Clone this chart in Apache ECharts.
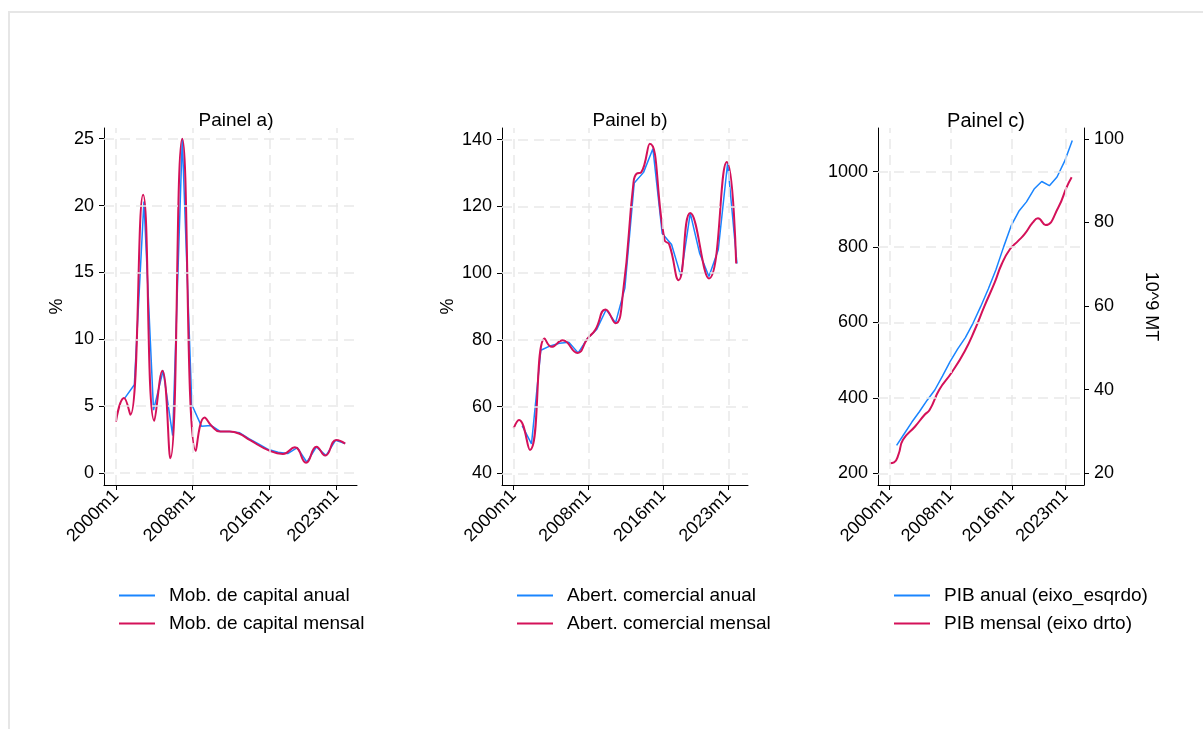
<!DOCTYPE html>
<html>
<head>
<meta charset="utf-8">
<script src="https://cdn.jsdelivr.net/npm/echarts@6/dist/echarts.min.js"></script>
<style>
  html, body { margin: 0; padding: 0; background: #fff; }
  .moldura {
    position: absolute; left: 8px; top: 11px; width: 1300px; height: 800px;
    border-left: 2px solid #e6e6e6; border-top: 2px solid #e6e6e6;
  }
  #chart { position: absolute; left: 0; top: 0; width: 1203px; height: 729px; }
</style>
</head>
<body>
<div class="moldura"></div>
<div id="chart"></div>
<script>
  // anos das séries anuais (plotadas no mês 12)
  const anos = [2000, 2001, 2002, 2003, 2004, 2005, 2006, 2007, 2008, 2009, 2010, 2011,
    2012, 2013, 2014, 2015, 2016, 2017, 2018, 2019, 2020, 2021, 2022, 2023]

  // Painel a) mobilidade de capital
  const mobAnual = [5.6, 6.6, 20.3, 4.7, 7.65, 2.8, 25.0, 5.1, 3.5, 3.55, 3.1, 3.1,
    3.0, 2.55, 2.15, 1.75, 1.55, 1.45, 1.9, 0.8, 1.95, 1.3, 2.45, 2.2]
  const mobMeses = ['2000m1', '2000m11', '2001m7', '2002m11', '2004m1', '2004m11', '2005m9',
    '2006m12', '2008m5', '2009m4', '2010m1', '2010m11', '2011m11', '2012m11', '2014m1',
    '2016m1', '2017m6', '2018m9', '2019m11', '2020m12', '2021m11', '2023m1', '2023m12']
  const mobMensal = [3.85, 5.6, 4.35, 20.8, 3.9, 7.65, 1.1, 25.0, 1.65, 4.15, 3.5, 3.1,
    3.1, 2.95, 2.45, 1.67, 1.42, 1.92, 0.77, 1.97, 1.3, 2.47, 2.2]

  // Painel b) abertura comercial
  const abAnual = [54.3, 48.8, 76.9, 78.2, 79.0, 79.3, 76.1, 80.4, 83.2, 89.1, 85.1, 95.5,
    127.0, 130.2, 137.3, 111.9, 108.6, 99.1, 118.0, 106.0, 99.0, 107.0, 133.0, 102.9]
  const abMeses = ['2000m1', '2000m8', '2001m10', '2003m5', '2004m2', '2005m4', '2006m11',
    '2007m12', '2008m10', '2009m11', '2010m12', '2011m10', '2012m11', '2013m3', '2013m9',
    '2014m8', '2016m3', '2016m9', '2017m9', '2018m12', '2020m12', '2022m11', '2023m11']
  const abMensal = [53.5, 56.0, 47.0, 80.4, 77.9, 79.9, 76.1, 80.4, 83.0, 89.1, 85.0, 95.0,
    127.0, 129.8, 130.2, 138.8, 109.9, 108.6, 97.9, 118.0, 98.4, 133.3, 102.9]

  // Painel c) PIB
  const pibAnual = [274, 305, 336, 364, 394, 421, 458, 496, 530, 560, 598, 642,
    689, 740, 800, 857, 895, 920, 954, 974, 963, 986, 1028, 1083]
  const pibMeses = ['2000m1', '2000m8', '2001m3', '2001m10', '2003m5', '2004m8', '2005m4',
    '2006m7', '2008m2', '2009m11', '2011m3', '2012m6', '2013m10', '2014m9', '2015m10',
    '2016m11', '2017m9', '2018m10', '2019m6', '2020m6', '2022m2', '2023m3', '2023m11']
  const pibMensal = [22.4, 22.6, 24.5, 28.0, 31.2, 34.0, 35.2, 40.0, 44.0, 49.2, 54.4, 60.0,
    65.6, 70.0, 73.6, 75.6, 77.2, 80.0, 81.0, 79.4, 83.6, 88.4, 90.8]

  // marcas dos eixos
  const xRotulos = ['2000m1', '2008m1', '2016m1', '2023m1']
  const yTicksA = [0, 5, 10, 15, 20, 25]
  const yTicksB = [40, 60, 80, 100, 120, 140]
  const yTicksC = [200, 400, 600, 800, 1000]
  const yTicksC2 = [20, 40, 60, 80, 100]

  const AZUL = '#1a85ff'
  const VERMELHO = '#d41159'
  const FONTE = 'Liberation Sans, Arial, sans-serif'

  const dec = (s) => {
    const [a, m] = s.split('m').map(Number)
    return a + (m - 1) / 12
  }
  const xTicks = xRotulos.map(dec)

  const anual = (vals) => anos.map((a, i) => [dec(a + 'm12'), vals[i]])
  const mensal = (meses, vals) => meses.map((m, i) => [dec(m), vals[i]])

  const eixoX = (grid, min, max) => ({
    type: 'value', gridIndex: grid, min: min, max: max,
    axisLine: { show: true, onZero: false, lineStyle: { color: '#000', width: 1 } },
    axisTick: { show: true, customValues: xTicks, length: 5, lineStyle: { color: '#000' } },
    axisLabel: {
      customValues: xTicks, rotate: 45, margin: 8, fontSize: 18, color: '#000', fontFamily: FONTE,
      formatter: (v) => xRotulos[xTicks.findIndex((t) => Math.abs(t - v) < 1e-6)] || '',
    },
    splitLine: { show: false },
  })

  const eixoY = (grid, min, max, ticks, extra) => Object.assign({
    type: 'value', gridIndex: grid, min: min, max: max,
    axisLine: { show: true, lineStyle: { color: '#000', width: 1 } },
    axisTick: { show: true, customValues: ticks, length: 5, lineStyle: { color: '#000' } },
    axisLabel: {
      customValues: ticks, margin: 10, fontSize: 18, color: '#000', fontFamily: FONTE,
      formatter: (v) => String(v),
    },
    splitLine: { show: false },
    nameTextStyle: { fontSize: 18, color: '#000', fontFamily: FONTE },
  }, extra || {})

  // linhas de grade tracejadas (atrás das séries)
  const grade = (xi, yi, yTicks) => ({
    type: 'line', xAxisIndex: xi, yAxisIndex: yi, data: [], z: 1, silent: true,
    markLine: {
      silent: true, symbol: ['none', 'none'], label: { show: false }, animation: false,
      lineStyle: { color: '#e9e9e9', type: [10, 6], width: 1.5 },
      data: xTicks.map((v) => ({ xAxis: v })).concat(yTicks.map((v) => ({ yAxis: v }))),
    },
  })

  const linha = (nome, xi, yi, dados, cor, larg, suave) => ({
    name: nome, type: 'line', xAxisIndex: xi, yAxisIndex: yi, data: dados,
    symbol: 'none', smooth: suave ? 0.5 : false, z: suave ? 4 : 3,
    lineStyle: { color: cor, width: larg }, itemStyle: { color: cor },
    emphasis: { disabled: true },
  })

  const legenda = (left, nomes) => ({
    left: left, top: 586, orient: 'vertical', padding: 0,
    icon: 'rect', itemWidth: 36, itemHeight: 2, itemGap: 9,
    selectedMode: false, data: nomes,
    textStyle: { fontSize: 19, lineHeight: 19, color: '#000', fontFamily: FONTE, padding: [0, 0, 0, 9] },
  })

  const titulo = (texto, centro, tam) => ({
    text: texto, left: centro, top: 106, textAlign: 'center',
    textStyle: { fontSize: tam, fontWeight: 'normal', color: '#000', fontFamily: FONTE },
  })

  const chart = echarts.init(document.getElementById('chart'))
  chart.setOption({
    animation: false,
    title: [titulo('Painel a)', 231, 19), titulo('Painel b)', 625, 19), titulo('Painel c)', 981, 20)],
    grid: [
      { left: 104, top: 128, width: 253, height: 357 },
      { left: 502, top: 128, width: 246, height: 357 },
      { left: 878, top: 128, width: 206, height: 357 },
    ],
    xAxis: [eixoX(0, 1998.75, 2025.15), eixoX(1, 1998.76, 2025.1), eixoX(2, 1998.48, 2025.45)],
    yAxis: [
      eixoY(0, -0.9, 25.8, yTicksA, { name: '%', nameLocation: 'middle', nameGap: 38, nameRotate: 90 }),
      eixoY(1, 36.5, 143.5, yTicksB, { name: '%', nameLocation: 'middle', nameGap: 45, nameRotate: 90 }),
      eixoY(2, 169, 1116, yTicksC),
      eixoY(2, 17.2, 102.6, yTicksC2, { position: 'right', name: '10^9 MT', nameLocation: 'middle', nameGap: 58, nameRotate: -90 }),
    ],
    legend: [
      legenda(119, ['Mob. de capital anual', 'Mob. de capital mensal']),
      legenda(517, ['Abert. comercial anual', 'Abert. comercial mensal']),
      legenda(894, ['PIB anual (eixo_esqrdo)', 'PIB mensal (eixo drto)']),
    ],
    series: [
      grade(0, 0, yTicksA),
      grade(1, 1, yTicksB),
      grade(2, 2, yTicksC),
      linha('Mob. de capital anual', 0, 0, anual(mobAnual), AZUL, 1.5, false),
      linha('Mob. de capital mensal', 0, 0, mensal(mobMeses, mobMensal), VERMELHO, 2, true),
      linha('Abert. comercial anual', 1, 1, anual(abAnual), AZUL, 1.5, false),
      linha('Abert. comercial mensal', 1, 1, mensal(abMeses, abMensal), VERMELHO, 2, true),
      linha('PIB anual (eixo_esqrdo)', 2, 2, anual(pibAnual), AZUL, 1.5, false),
      linha('PIB mensal (eixo drto)', 2, 3, mensal(pibMeses, pibMensal), VERMELHO, 2, true),
    ],
  })
</script>
</body>
</html>
